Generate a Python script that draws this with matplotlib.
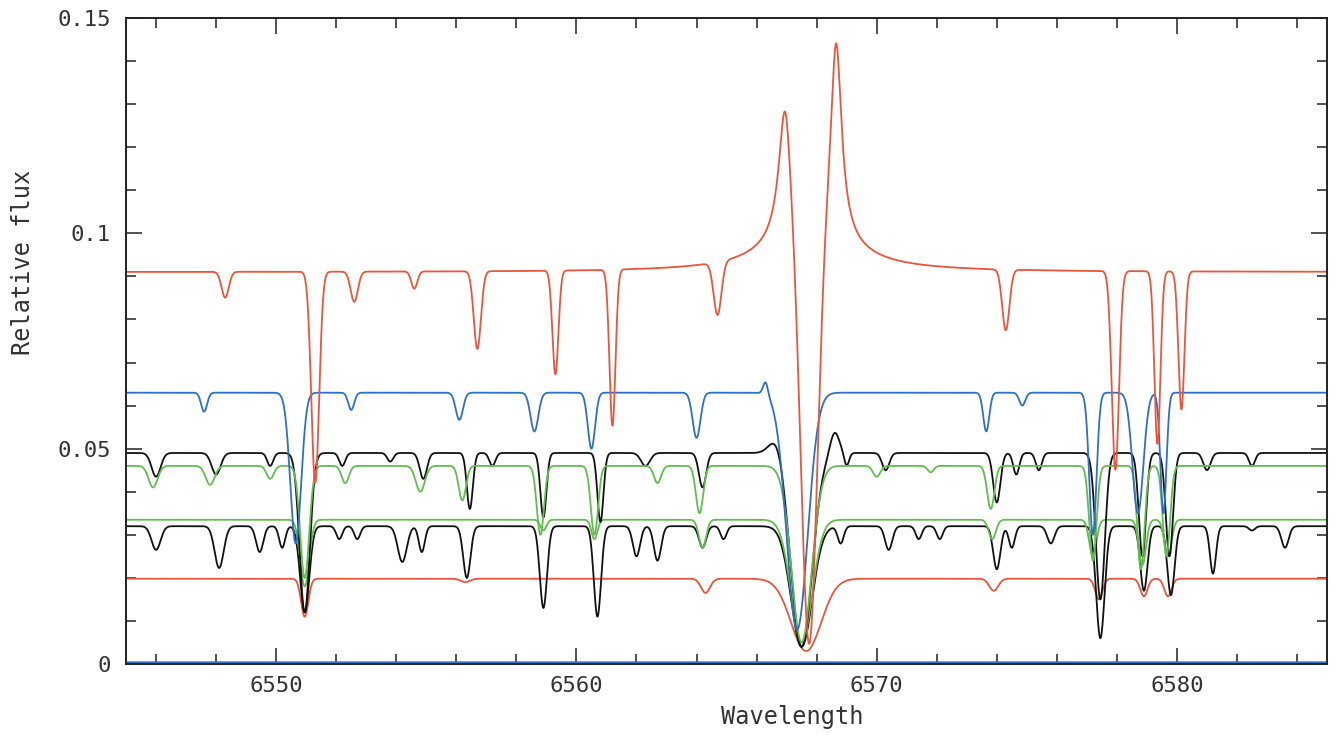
import numpy as np
import matplotlib
matplotlib.use("Agg")
import matplotlib.pyplot as plt
from matplotlib.ticker import MultipleLocator, FixedLocator

# continuum levels of the six spectra (relative flux)
cont_red_top = 0.091
cont_blue = 0.063
cont_black_top = 0.049
cont_green_top = 0.046
cont_green_low = 0.0335
cont_black_low = 0.032
cont_red_low = 0.0198
level_blue_zero = 0.0004

# lines: (centre [A], flux at line centre, width sigma [A])
lines_red_top = [(6548.3, 0.085, 0.12), (6551.3, 0.042, 0.13), (6552.6, 0.084, 0.12),
                 (6554.6, 0.087, 0.10), (6556.7, 0.073, 0.12), (6559.3, 0.067, 0.10),
                 (6561.2, 0.055, 0.10), (6564.7, 0.079, 0.13), (6567.75, 0.004, 0.27),
                 (6574.3, 0.077, 0.12), (6577.95, 0.045, 0.12), (6579.35, 0.051, 0.10),
                 (6580.15, 0.059, 0.10)]
# H-alpha emission of the top spectrum: (centre, peak height, half width)
emis_red_top = [(6567.8, 0.011, 1.4), (6566.95, 0.030, 0.25), (6568.65, 0.045, 0.22)]

lines_blue = [(6547.6, 0.0586, 0.10), (6550.65, 0.028, 0.18), (6552.5, 0.059, 0.10),
              (6556.1, 0.0567, 0.12), (6558.6, 0.054, 0.13), (6560.5, 0.050, 0.12),
              (6564.0, 0.0525, 0.13), (6566.3, 0.066, 0.08), (6567.35, 0.008, 0.35),
              (6573.65, 0.054, 0.10), (6574.85, 0.060, 0.10), (6577.2, 0.030, 0.12),
              (6578.7, 0.035, 0.18), (6579.55, 0.035, 0.10)]

lines_black_top = [(6546.0, 0.0435, 0.15), (6548.0, 0.044, 0.15), (6549.8, 0.046, 0.10),
                   (6550.95, 0.012, 0.17), (6552.2, 0.046, 0.10), (6553.8, 0.047, 0.10),
                   (6554.9, 0.043, 0.12), (6556.45, 0.036, 0.10), (6557.2, 0.046, 0.10),
                   (6558.9, 0.034, 0.10), (6560.8, 0.033, 0.10), (6562.3, 0.046, 0.15),
                   (6564.2, 0.041, 0.12), (6566.7, 0.053, 0.25), (6567.5, 0.004, 0.35),
                   (6568.6, 0.054, 0.15), (6569.0, 0.046, 0.08), (6570.3, 0.045, 0.12),
                   (6574.0, 0.0375, 0.12), (6574.65, 0.044, 0.10), (6575.4, 0.045, 0.10),
                   (6577.45, 0.015, 0.15), (6578.85, 0.025, 0.12), (6579.75, 0.025, 0.12),
                   (6581.0, 0.045, 0.12), (6582.5, 0.046, 0.10)]

lines_green_top = [(6545.9, 0.041, 0.15), (6547.8, 0.0416, 0.15), (6549.8, 0.043, 0.12),
                   (6550.95, 0.020, 0.15), (6552.3, 0.042, 0.12), (6554.8, 0.040, 0.15),
                   (6556.2, 0.038, 0.12), (6558.8, 0.030, 0.12), (6560.6, 0.030, 0.12),
                   (6562.7, 0.042, 0.12), (6564.1, 0.035, 0.12), (6567.5, 0.005, 0.33),
                   (6570.0, 0.0435, 0.12), (6571.8, 0.0445, 0.10), (6573.8, 0.036, 0.12),
                   (6577.2, 0.024, 0.12), (6578.8, 0.022, 0.12), (6579.65, 0.025, 0.12)]

lines_green_low = [(6550.95, 0.018, 0.15), (6558.9, 0.031, 0.10), (6560.6, 0.029, 0.10),
                   (6564.2, 0.027, 0.12), (6567.5, 0.005, 0.35), (6573.85, 0.029, 0.12),
                   (6577.2, 0.025, 0.12), (6578.85, 0.023, 0.12), (6579.7, 0.025, 0.12)]

lines_black_low = [(6546.0, 0.0265, 0.15), (6548.1, 0.0223, 0.15), (6549.45, 0.026, 0.12),
                   (6550.2, 0.027, 0.10), (6550.95, 0.012, 0.15), (6552.1, 0.029, 0.10),
                   (6552.7, 0.029, 0.10), (6554.2, 0.0237, 0.15), (6554.85, 0.026, 0.10),
                   (6556.35, 0.020, 0.12), (6558.9, 0.013, 0.12), (6560.7, 0.011, 0.12),
                   (6562.0, 0.025, 0.12), (6562.7, 0.024, 0.12), (6564.2, 0.027, 0.12),
                   (6564.9, 0.029, 0.10), (6567.5, 0.004, 0.35), (6568.8, 0.028, 0.10),
                   (6570.4, 0.0265, 0.12), (6571.4, 0.029, 0.10), (6572.1, 0.029, 0.10),
                   (6574.0, 0.022, 0.12), (6574.5, 0.027, 0.10), (6575.8, 0.028, 0.12),
                   (6577.45, 0.006, 0.14), (6578.9, 0.017, 0.12), (6579.8, 0.016, 0.12),
                   (6581.2, 0.021, 0.10), (6582.5, 0.031, 0.10), (6583.6, 0.027, 0.12)]

lines_red_low = [(6550.95, 0.011, 0.12), (6556.3, 0.019, 0.15), (6564.3, 0.0165, 0.15),
                 (6567.65, 0.003, 0.50), (6573.9, 0.017, 0.15), (6577.4, 0.015, 0.12),
                 (6578.9, 0.0157, 0.12), (6579.7, 0.0157, 0.12)]

xticks_major = [6550, 6560, 6570, 6580]
yticks_major = [0, 0.05, 0.1, 0.15]
ytick_labels = ["0", "0.05", "0.1", "0.15"]

wave = np.linspace(6545, 6585, 4001)


def make_spectrum(cont, lines, emis=()):
    flux = np.full_like(wave, cont)
    for c, peak, g in emis:
        flux += peak / (1 + ((wave - c) / g) ** 2)
    for c, fmin, s in lines:
        d = 1 - fmin / cont
        flux *= 1 - d * np.exp(-0.5 * ((wave - c) / s) ** 2)
    return flux


red = '#e9553d'
blue = '#2f6fc4'
green = '#62bd50'
black = '#111111'

fig = plt.figure(figsize=(13.41, 7.35), dpi=100)
ax = fig.add_axes([0.094, 0.0966, 0.8956, 0.8789])

lw = 1.3
ax.plot(wave, np.full_like(wave, level_blue_zero), color=blue, lw=lw)
ax.plot(wave, make_spectrum(cont_red_low, lines_red_low), color=red, lw=lw)
ax.plot(wave, make_spectrum(cont_black_low, lines_black_low), color=black, lw=lw)
ax.plot(wave, make_spectrum(cont_green_low, lines_green_low), color=green, lw=lw)
ax.plot(wave, make_spectrum(cont_black_top, lines_black_top), color=black, lw=lw)
ax.plot(wave, make_spectrum(cont_green_top, lines_green_top), color=green, lw=lw)
ax.plot(wave, make_spectrum(cont_blue, lines_blue), color=blue, lw=lw)
ax.plot(wave, make_spectrum(cont_red_top, lines_red_top, emis_red_top), color=red, lw=lw)

ax.set_xlim(6545, 6585)
ax.set_ylim(0, 0.15)

ax.xaxis.set_major_locator(FixedLocator(xticks_major))
ax.xaxis.set_minor_locator(MultipleLocator(2))
ax.yaxis.set_major_locator(FixedLocator(yticks_major))
ax.yaxis.set_minor_locator(MultipleLocator(0.01))
ax.set_yticklabels(ytick_labels)

ax.tick_params(which='both', direction='in', top=True, right=True, width=1.1, color='#222222')
ax.tick_params(which='major', length=11.5)
ax.tick_params(which='minor', length=7.5)
ax.tick_params(axis='x', pad=9)
ax.tick_params(axis='y', pad=11)
for spine in ax.spines.values():
    spine.set_linewidth(1.4)
    spine.set_color('#222222')

tick_font = dict(family='DejaVu Sans Mono', size=16)
for lab in ax.get_xticklabels() + ax.get_yticklabels():
    lab.set_fontfamily(tick_font['family'])
    lab.set_fontsize(tick_font['size'])
    lab.set_color('#333333')

ax.set_xlabel('Wavelength', family='DejaVu Sans Mono', fontsize=17, color='#333333')
ax.set_ylabel('Relative flux', family='DejaVu Sans Mono', fontsize=17, color='#333333')
ax.xaxis.set_label_coords(0.555, -0.064)
ax.yaxis.set_label_coords(-0.076, 0.622)

fig.savefig('out.png', dpi=100)
